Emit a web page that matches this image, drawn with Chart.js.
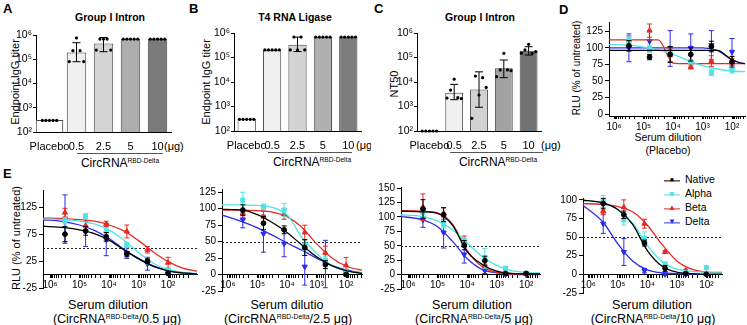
<!DOCTYPE html>
<html>
<head>
<meta charset="utf-8">
<script src="https://cdn.jsdelivr.net/npm/chart.js@4/dist/chart.umd.min.js"></script>
<style>
  body { margin: 0; width: 747px; height: 325px; overflow: hidden; position: relative; background: #fff;
         font-family: "Liberation Sans", Arial, Helvetica, sans-serif; color: #000; }
  canvas { position: absolute; }
  .t { position: absolute; white-space: nowrap; line-height: 1; }
  .c { transform: translate(-50%, -50%); }
  .r { transform: translate(-50%, -50%) rotate(-90deg); }
  .pl { font-weight: bold; font-size: 13px; }
  .ti { font-weight: bold; font-size: 10.5px; }
  .yt { font-size: 11px; }
  .ul { position: absolute; height: 0; border-top: 1px solid #555; }
  .lab { font-size: 12px; }
  .et { font-size: 12.5px; }
  .nar { font-family: "Liberation Sans Narrow", "Liberation Sans", Arial, sans-serif; }
  sup { font-size: 0.55em; line-height: 0; vertical-align: 0.6em; }
  .leg { position: absolute; font-size: 10.5px; line-height: 1; white-space: nowrap; transform: translateY(-50%); }
  .sym { display: inline-block; position: relative; width: 16px; height: 10px; margin-right: 5px; vertical-align: middle; }
  .sym i { position: absolute; left: 0; right: 0; top: 5px; border-top: 1.3px solid currentColor; }
  .sym b { position: absolute; left: 0; right: 0; top: 0; text-align: center; font-size: 8px; line-height: 10px; font-weight: normal; }
</style>
</head>
<body>
<!-- panel letters -->
<div class="t pl" style="left:3px;top:2px">A</div>
<div class="t pl" style="left:189px;top:2px">B</div>
<div class="t pl" style="left:374px;top:2px">C</div>
<div class="t pl" style="left:559px;top:3px">D</div>
<div class="t pl" style="left:3px;top:167px">E</div>

<!-- titles -->
<div class="t c ti" style="left:110px;top:17px">Group I Intron</div>
<div class="t c ti" style="left:295px;top:17px">T4 RNA Ligase</div>
<div class="t c ti" style="left:480px;top:17px">Group I Intron</div>

<!-- y axis titles -->
<div class="t r yt" style="left:15px;top:82px">Endpoint IgG titer</div>
<div class="t r yt" style="left:206px;top:82px">Endpoint IgG titer</div>
<div class="t r yt" style="left:394px;top:84px">NT50</div>
<div class="t r" style="left:577px;top:68px;font-size:10px">RLU (% of untreated)</div>
<div class="t r" style="left:16px;top:238px;font-size:11px">RLU (% of untreated)</div>

<!-- dose unit and vaccine group under the bar panels -->
<div class="t nar" style="left:164px;top:141px;font-size:11px">(μg)</div>
<div class="t nar" style="left:356px;top:140px;font-size:11px;width:15px;overflow:hidden">(μg)</div>
<div class="t nar" style="left:541px;top:140px;font-size:11px">(μg)</div>
<div class="ul" style="left:77px;top:153px;width:86px"></div>
<div class="ul" style="left:268px;top:152px;width:84px"></div>
<div class="ul" style="left:450px;top:152px;width:93px"></div>
<div class="t c lab" style="left:120px;top:163px">CircRNA<sup>RBD-Delta</sup></div>
<div class="t c lab" style="left:312px;top:162px">CircRNA<sup>RBD-Delta</sup></div>
<div class="t c lab" style="left:498px;top:162px">CircRNA<sup>RBD-Delta</sup></div>

<!-- x axis titles of the neutralisation curves -->
<div class="t c" style="left:668px;top:137px;font-size:10.5px">Serum dilution</div>
<div class="t c" style="left:668px;top:150px;font-size:10.5px">(Placebo)</div>
<div class="t c et" style="left:108px;top:305px">Serum dilution</div>
<div class="t c et" style="left:117px;top:319px">(CircRNA<sup>RBD-Delta</sup>/0.5 μg)</div>
<div class="t c et" style="left:287px;top:305px">Serum dilutio</div>
<div class="t c et" style="left:288px;top:319px">(CircRNA<sup>RBD-Delta</sup>/2.5 μg)</div>
<div class="t c et" style="left:472px;top:305px">Serum dilution</div>
<div class="t c et" style="left:474px;top:319px">(CircRNA<sup>RBD-Delta</sup>/5 μg)</div>
<div class="t c et" style="left:652px;top:305px">Serum dilution</div>
<div class="t c et" style="left:653px;top:319px">(CircRNA<sup>RBD-Delta</sup>/10 μg)</div>

<!-- legend -->
<div class="leg" style="left:664px;top:180px"><span class="sym" style="color:#000"><i></i><b>●</b></span>Native</div>
<div class="leg" style="left:664px;top:194px"><span class="sym" style="color:#4fe3e6"><i></i><b>■</b></span>Alpha</div>
<div class="leg" style="left:664px;top:208px"><span class="sym" style="color:#e62a22"><i></i><b>▲</b></span>Beta</div>
<div class="leg" style="left:664px;top:222px"><span class="sym" style="color:#2b2bf0"><i></i><b>▼</b></span>Delta</div>

<script>
// dose groups of the bar panels
const doseLabels = ["Placebo", "0.5", "2.5", "5", "10"];

// A: Group I Intron, endpoint IgG titer
const intronTiterBars = [300, 190000, 450000, 680000, 680000];
const intronTiterLow = [null, 79000, 205000, null, null];
const intronTiterHigh = [null, 480000, 790000, null, null];
const intronTiterDots = [
  [300, 300, 300, 300, 300],
  [80000, 225000, 760000, 225000, 80000],
  [240000, 680000, 680000, 680000, 240000],
  [680000, 680000, 680000, 680000, 680000],
  [680000, 680000, 680000, 680000, 680000],
];

// B: T4 RNA Ligase, endpoint IgG titer
const ligaseTiterBars = [300, 204000, 330000, 680000, 680000];
const ligaseTiterLow = [null, null, 175000, null, null];
const ligaseTiterHigh = [null, null, 680000, null, null];
const ligaseTiterDots = [
  [300, 300, 300, 300, 300],
  [204000, 204000, 204000, 204000, 204000],
  [204000, 680000, 204000, 680000, 204000],
  [680000, 680000, 680000, 680000, 680000],
  [680000, 680000, 680000, 680000, 680000],
];

// C: Group I Intron, NT50
const nt50Bars = [100, 3650, 5000, 36000, 190000];
const nt50Low = [null, 1900, 930, 15000, 126000];
const nt50High = [null, 8000, 26000, 79000, 276000];
const nt50Dots = [
  [100, 100, 100, 100, 100],
  [2200, 4700, 13000, 2300, 2100],
  [330, 17500, 2950, 15000, 6000],
  [16500, 31000, 148000, 31000, 29000],
  [150000, 204000, 345000, 148000, 175000],
];

// neutralisation curves (D, E): order Native, Alpha, Beta, Delta
const variants = ["Native", "Alpha", "Beta", "Delta"];
const dilutions = [312500, 62500, 12500, 2500, 500, 100];
const fitDilutions = [2000000, 316000, 100000, 31600, 10000, 3160, 1000, 316, 100, 32, 10];

const placeboMeans = [
  [103, 86, 90, 90, 102, 79],
  [113, 99, 92, 79, 63, 66],
  [112, 126, 89, 71, 80, 79],
  [100, 110, 99, 100, 104, 94],
];
const placeboSd = [
  [8, 4, 12, 10, 8, 8],
  [5, 5, 6, 3, 5, 4],
  [6, 10, 10, 3, 8, 5],
  [21, 16, 27, 21, 22, 20],
];
const placeboFit = [
  [96, 96, 96, 96, 96, 96, 96, 96, 82, 76, 76],
  [105, 104, 101, 97, 90, 81, 73, 68, 65, 64, 64],
  [112, 112, 112, 112, 77, 76, 76, 76, 76, 76, 76],
  [100, 100, 100, 100, 100, 100, 100, 96, 82, 76, 76],
];

const dose05Means = [
  [75, 81, 70, 38, 25, 2],
  [100, 108, 81, 55, 24, 8],
  [115, 91, 94, 80, 46, 22],
  [103, 80, 65, 40, 20, 3],
];
const dose05Sd = [
  [14, 8, 8, 5, 4, 2],
  [6, 5, 6, 5, 4, 2],
  [8, 8, 5, 12, 6, 10],
  [45, 28, 30, 10, 12, 3],
];
const dose05Fit = [
  [90, 87, 83, 76, 64, 46, 29, 15, 7, 3, 1],
  [103, 102, 99, 94, 83, 64, 41, 21, 9, 4, 2],
  [105, 104, 102, 99, 92, 81, 63, 42, 24, 12, 6],
  [102, 98, 92, 82, 67, 47, 30, 16, 7, 3, 1],
];

const dose25Means = [
  [98, 78, 68, 41, 15, 0],
  [113, 103, 98, 45, 22, 4],
  [93, 88, 92, 64, 33, 14],
  [83, 62, 47, 12, 16, 4],
];
const dose25Sd = [
  [8, 10, 6, 12, 6, 2],
  [12, 4, 10, 8, 6, 2],
  [6, 8, 8, 11, 10, 12],
  [12, 28, 20, 28, 36, 3],
];
const dose25Fit = [
  [99, 98, 91, 79, 64, 45, 27, 14, 6, 2, 1],
  [106, 106, 105, 102, 91, 57, 32, 14, 6, 3, 2],
  [98, 98, 97, 95, 88, 72, 47, 26, 13, 7, 4],
  [92, 80, 71, 60, 48, 37, 25, 14, 7, 3, 2],
];

const dose5Means = [
  [114, 104, 51, 24, 2, 2],
  [108, 87, 59, 28, 11, 2],
  [117, 106, 57, 14, 1, 1],
  [95, 73, 35, 7, 0, 0],
];
const dose5Sd = [
  [16, 12, 8, 8, 2, 2],
  [8, 6, 5, 17, 2, 2],
  [23, 10, 10, 4, 1, 1],
  [13, 27, 15, 5, 1, 1],
];
const dose5Fit = [
  [110, 109, 106, 86, 40, 18, 6, 2, 1, 1, 1],
  [104, 101, 93, 78, 55, 32, 16, 7, 4, 3, 3],
  [111, 110, 107, 88, 42, 14, 4, 1, 1, 1, 1],
  [101, 95, 83, 58, 28, 9, 3, 1, 0, 0, 0],
];

const dose10Means = [
  [95, 80, 42, 8, 1, 0],
  [98, 73, 48, 14, 1, 9],
  [85, 90, 68, 30, 5, 1],
  [68, 30, 5, 0, 0, 0],
];
const dose10Sd = [
  [7, 5, 4, 4, 1, 1],
  [8, 7, 9, 2, 1, 2],
  [5, 10, 6, 2, 2, 1],
  [13, 18, 3, 1, 0, 0],
];
const dose10Fit = [
  [100, 96, 87, 67, 32, 11, 3, 1, 0, 0, 0],
  [100, 96, 87, 69, 39, 17, 7, 4, 3, 3, 3],
  [95, 94, 91, 84, 66, 40, 18, 7, 3, 2, 2],
  [96, 70, 41, 18, 6, 2, 1, 0, 0, 0, 0],
];

const halfLevel = 50;

// styles
const variantColors = ["#000000", "#4fe3e6", "#e62a22", "#2b2bf0"];
const pointStyles = ["circle", "rect", "triangle", "triangle"];
const pointRotations = [0, 0, 0, 180];
const pointRadii = [2.4, 2.9, 3, 3];
const SUP = "⁰¹²³⁴⁵⁶⁷⁸⁹";
const NARROW = "'Liberation Sans Narrow', 'Liberation Sans', Arial, sans-serif";

Chart.defaults.font.family = "'Liberation Sans', Arial, Helvetica, sans-serif";
Chart.defaults.color = "#000";
Chart.defaults.animation = false;

function isPow10(v) {
  const e = Math.log10(v);
  return Math.abs(e - Math.round(e)) < 1e-9;
}

function tenPower(v) {
  return isPow10(v) ? "10" + SUP[Math.round(Math.log10(v))] : "";
}

function keepPowers(axis) {
  axis.ticks = axis.ticks.filter((t) => isPow10(t.value));
}

// minor ticks 1..9 of each decade, nothing at the odd axis ends
function keepWholeSignificands(axis) {
  axis.ticks = axis.ticks.filter((t) => {
    const e = Math.floor(Math.log10(t.value) + 1e-9);
    const s = t.value / Math.pow(10, e);
    return Math.abs(s - Math.round(s)) < 1e-6;
  });
}

function addCanvas(plot, m) {
  const left = plot.left - m.wy;
  const top = plot.top - m.top;
  const canvas = document.createElement("canvas");
  canvas.width = plot.right + m.right - left;
  canvas.height = plot.bottom + m.hx + m.bottom - top;
  canvas.style.left = left + "px";
  canvas.style.top = top + "px";
  document.body.appendChild(canvas);
  return canvas;
}

// dots and error bars on top of the bars
function barMarks(low, high, dots) {
  return {
    id: "barMarks",
    afterDatasetsDraw(chart) {
      const { ctx } = chart;
      const x = chart.scales.x;
      const y = chart.scales.y;
      ctx.save();
      ctx.strokeStyle = "#000";
      ctx.fillStyle = "#000";
      ctx.lineWidth = 1;
      low.forEach((lo, i) => {
        if (lo === null) return;
        const cx = x.getPixelForValue(i);
        const y1 = y.getPixelForValue(high[i]);
        const y2 = y.getPixelForValue(lo);
        ctx.beginPath();
        ctx.moveTo(cx, y1);
        ctx.lineTo(cx, y2);
        ctx.moveTo(cx - 4, y1);
        ctx.lineTo(cx + 4, y1);
        ctx.moveTo(cx - 4, y2);
        ctx.lineTo(cx + 4, y2);
        ctx.stroke();
      });
      dots.forEach((vals, i) => {
        const cx = x.getPixelForValue(i);
        vals.forEach((v, j) => {
          ctx.beginPath();
          ctx.arc(cx + (j - (vals.length - 1) / 2) * 3.6, y.getPixelForValue(v), 1.6, 0, Math.PI * 2);
          ctx.fill();
        });
      });
      ctx.restore();
    },
  };
}

// SD bars of each point dataset, in the series colour
const errorBars = {
  id: "errorBars",
  afterDatasetDraw(chart, args) {
    const ds = chart.data.datasets[args.index];
    if (!ds.errors) return;
    const y = chart.scales.y;
    const ctx = chart.ctx;
    ctx.save();
    ctx.strokeStyle = ds.borderColor;
    ctx.lineWidth = 1;
    args.meta.data.forEach((pt, i) => {
      const v = ds.data[i].y;
      const e = ds.errors[i];
      const y1 = y.getPixelForValue(v + e);
      const y2 = y.getPixelForValue(v - e);
      ctx.beginPath();
      ctx.moveTo(pt.x, y1);
      ctx.lineTo(pt.x, y2);
      ctx.moveTo(pt.x - 2.5, y1);
      ctx.lineTo(pt.x + 2.5, y1);
      ctx.moveTo(pt.x - 2.5, y2);
      ctx.lineTo(pt.x + 2.5, y2);
      ctx.stroke();
    });
    ctx.restore();
  },
};

// dotted 50 % line
function halfLine(level) {
  return {
    id: "halfLine",
    beforeDatasetsDraw(chart) {
      const { ctx, chartArea } = chart;
      const py = Math.round(chart.scales.y.getPixelForValue(level)) + 0.5;
      ctx.save();
      ctx.strokeStyle = "#222";
      ctx.lineWidth = 1;
      ctx.setLineDash([2, 2]);
      ctx.beginPath();
      ctx.moveTo(chartArea.left, py);
      ctx.lineTo(chartArea.right, py);
      ctx.stroke();
      ctx.restore();
    },
  };
}

function barPanel(plot, bars, low, high, dots, colors, placeboShare) {
  const m = { wy: 36, top: 8, right: 4, hx: 24, bottom: 0 };
  const canvas = addCanvas(plot, m);
  const common = { backgroundColor: colors, borderColor: "#444", borderWidth: 1, categoryPercentage: 1, grouped: false };
  new Chart(canvas, {
    type: "bar",
    data: {
      labels: doseLabels,
      datasets: [
        Object.assign({ data: bars.map((v, i) => (i === 0 ? v : null)), barPercentage: placeboShare }, common),
        Object.assign({ data: bars.map((v, i) => (i === 0 ? null : v)), barPercentage: 0.72 }, common),
      ],
    },
    options: {
      responsive: false,
      events: [],
      layout: { padding: { left: 0, top: m.top, right: m.right, bottom: m.bottom }, autoPadding: false },
      plugins: { legend: { display: false }, tooltip: { enabled: false } },
      scales: {
        x: {
          grid: { display: false, drawTicks: false },
          border: { color: "#000" },
          ticks: { padding: 8, autoSkip: false, maxRotation: 0, font: { size: 11, family: NARROW } },
          afterFit: (s) => { s.height = m.hx; },
        },
        y: {
          type: "logarithmic",
          min: 100,
          max: 1000000,
          afterBuildTicks: keepPowers,
          afterFit: (s) => { s.width = m.wy; },
          border: { color: "#000" },
          grid: { drawOnChartArea: false, tickLength: 3, tickColor: "#000" },
          ticks: { callback: tenPower, padding: 1, font: { size: 10.5, family: NARROW } },
        },
      },
    },
    plugins: [barMarks(low, high, dots)],
  });
}

function curvePanel(plot, yMin, yMax, logMin, logMax, means, sds, fits, atZero) {
  const m = { wy: 30, top: 10, right: 3, hx: atZero ? 0 : 20, bottom: atZero ? 2 : 0 };
  const canvas = addCanvas(plot, m);
  const datasets = [];
  variants.forEach((name, v) => {
    datasets.push({
      label: name,
      data: dilutions.map((d, k) => ({ x: d, y: means[v][k] })),
      errors: sds[v],
      borderColor: variantColors[v],
      backgroundColor: variantColors[v],
      pointBackgroundColor: variantColors[v],
      pointBorderColor: variantColors[v],
      pointStyle: pointStyles[v],
      pointRotation: pointRotations[v],
      pointRadius: pointRadii[v],
      pointBorderWidth: 1,
      showLine: false,
    });
    datasets.push({
      label: name + " fit",
      data: fitDilutions.map((d, k) => ({ x: d, y: fits[v][k] })),
      borderColor: variantColors[v],
      borderWidth: 1.3,
      pointRadius: 0,
      showLine: true,
      cubicInterpolationMode: "monotone",
    });
  });
  const plugins = [errorBars];
  if (atZero) plugins.push(halfLine(halfLevel));
  new Chart(canvas, {
    type: "scatter",
    data: { datasets },
    options: {
      responsive: false,
      events: [],
      layout: { padding: { left: 0, top: m.top, right: m.right, bottom: m.bottom }, autoPadding: false },
      plugins: { legend: { display: false }, tooltip: { enabled: false } },
      scales: {
        x: {
          type: "logarithmic",
          reverse: true,
          min: Math.pow(10, logMin),
          max: Math.pow(10, logMax),
          position: atZero ? { y: 0 } : "bottom",
          afterBuildTicks: keepWholeSignificands,
          afterFit: (s) => { if (!atZero) s.height = m.hx; },
          border: { color: "#000" },
          grid: { drawOnChartArea: false, tickLength: 3, tickColor: "#000" },
          ticks: { autoSkip: false, maxRotation: 0, padding: 2, callback: tenPower, font: { size: 10 } },
        },
        y: {
          min: yMin,
          max: yMax,
          afterFit: (s) => { s.width = m.wy; },
          border: { color: "#000" },
          grid: { drawOnChartArea: false, tickLength: 4, tickColor: "#000" },
          ticks: { stepSize: 25, includeBounds: false, padding: 2, font: { size: 10 } },
        },
      },
    },
    plugins,
  });
}

document.addEventListener("DOMContentLoaded", function () {
  barPanel({ left: 36, top: 35, right: 171, bottom: 132 }, intronTiterBars, intronTiterLow, intronTiterHigh,
    intronTiterDots, ["#ffffff", "#f0f0f0", "#d4d4d4", "#adadad", "#7b7b7b"], 1.0);
  barPanel({ left: 234, top: 33, right: 361, bottom: 131 }, ligaseTiterBars, ligaseTiterLow, ligaseTiterHigh,
    ligaseTiterDots, ["#ffffff", "#efefef", "#d3d3d3", "#b0b0b0", "#7d7d7d"], 0.72);
  barPanel({ left: 417, top: 33, right: 541, bottom: 131 }, nt50Bars, nt50Low, nt50High,
    nt50Dots, ["#ffffff", "#f0f0f0", "#d2d2d2", "#a3a3a3", "#727272"], 0.72);

  curvePanel({ left: 609, top: 22, right: 745, bottom: 116 }, -3, 139, 1.56, 6.17,
    placeboMeans, placeboSd, placeboFit, false);
  curvePanel({ left: 43, top: 190, right: 197, bottom: 294 }, -25, 157, 1.02, 6.24,
    dose05Means, dose05Sd, dose05Fit, true);
  curvePanel({ left: 222, top: 189, right: 362, bottom: 297 }, -25, 130, 1.46, 6.2,
    dose25Means, dose25Sd, dose25Fit, true);
  curvePanel({ left: 401, top: 187, right: 540, bottom: 295 }, -25, 152, 1.53, 6.24,
    dose5Means, dose5Sd, dose5Fit, true);
  curvePanel({ left: 583, top: 198, right: 722, bottom: 299 }, -25, 102.5, 1.47, 6.18,
    dose10Means, dose10Sd, dose10Fit, true);
});
</script>
</body>
</html>
